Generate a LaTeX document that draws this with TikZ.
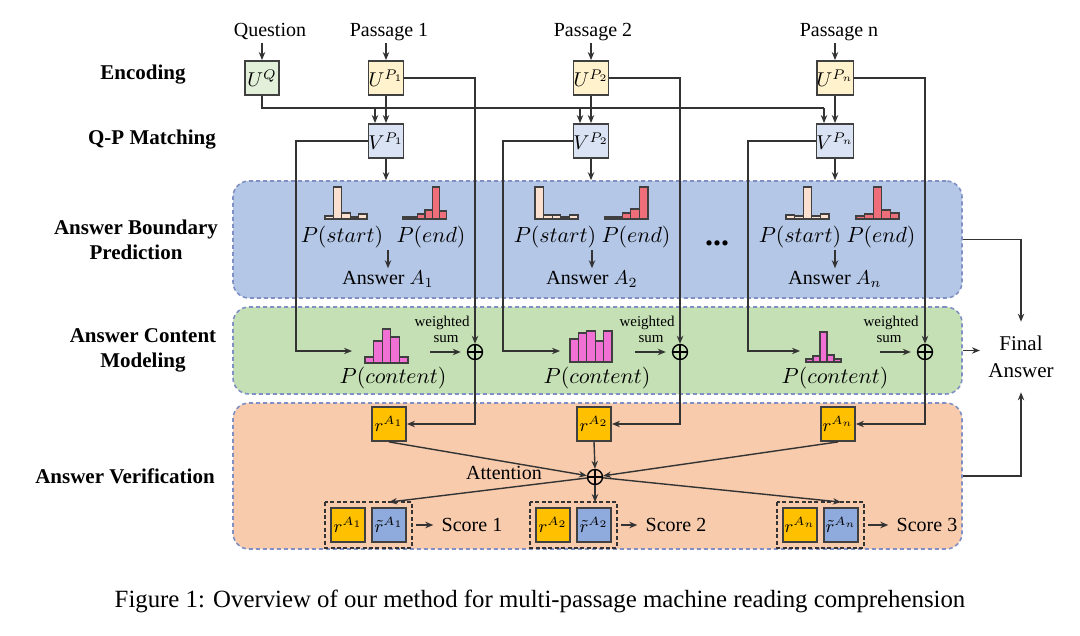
\documentclass[tikz,border=0pt]{standalone}
\usepackage{fontspec}
\setmainfont{Liberation Serif}
\usetikzlibrary{arrows.meta,calc}
\definecolor{lineC}{HTML}{333333}
\definecolor{boxC}{HTML}{404040}
\definecolor{panelC}{HTML}{8090C4}
\definecolor{blueP}{HTML}{B4C7E7}
\definecolor{greenP}{HTML}{C5E0B4}
\definecolor{orangeP}{HTML}{F8CBAD}
\definecolor{uC}{HTML}{FFF2CC}
\definecolor{qC}{HTML}{E2F0D9}
\definecolor{vC}{HTML}{DAE3F3}
\definecolor{rC}{HTML}{FFC000}
\definecolor{tC}{HTML}{8FAADC}
\definecolor{startC}{HTML}{FBE0D0}
\definecolor{endC}{HTML}{EE6E7A}
\definecolor{contC}{HTML}{F070D4}
\newcommand{\myhist}[5]{%
  \foreach \h [count=\i from 0] in {#5}{%
    \draw[draw=black!75, line width=0.6pt, fill=#4] ({#1+\i*#3},#2) rectangle ++(#3,-\h);
  }}
\begin{document}
\begin{tikzpicture}[x=0.5pt,y=-0.5pt,
  conn/.style={draw=lineC, line width=0.7pt},
  arr/.style={conn, -{Stealth[length=4pt,width=3.2pt]}},
  box/.style={draw=boxC, line width=0.9pt, minimum width=17pt, minimum height=17pt, inner sep=0pt, font=\fontsize{10}{12}\selectfont},
  ubox/.style={box, fill=uC},
  qbox/.style={box, fill=qC},
  vbox/.style={box, fill=vC},
  rbox/.style={box, fill=rC, font=\fontsize{9}{11}\selectfont},
  tbox/.style={box, fill=tC, font=\fontsize{9}{11}\selectfont},
  panel/.style={draw=panelC, dash pattern=on 2pt off 1.5pt, line width=0.8pt, rounded corners=8pt, minimum width=364.5pt, inner sep=0pt},
  rowlab/.style={font=\bfseries\fontsize{10.5}{12.5}\selectfont, align=center, inner sep=1pt},
  lab/.style={font=\fontsize{10}{12}\selectfont, inner sep=1pt},
  mathlab/.style={font=\fontsize{10.5}{12.5}\selectfont, inner sep=1pt},
  wlab/.style={font=\fontsize{7.5}{9}\selectfont, align=center, inner sep=0pt},
  oplus/.style={circle, draw=black, line width=0.7pt, minimum size=7.5pt, inner sep=0pt,
    path picture={\draw[line width=0.6pt] (path picture bounding box.north) -- (path picture bounding box.south) (path picture bounding box.west) -- (path picture bounding box.east);}},
  grp/.style={draw=black!80, line width=0.9pt, dash pattern=on 2pt off 1.2pt}
]
\useasboundingbox (0,0) rectangle (1080,636);
\fill[white] (0,0) rectangle (1080,636);

% row labels
\node[rowlab] (lenc) at (143,75) {Encoding};
\node[rowlab] (lqp) at (152,140) {Q-P Matching};
\node[rowlab] (labp) at (136,240) {Answer Boundary\\Prediction};
\node[rowlab] (lacm) at (143,350) {Answer Content\\Modeling};
\node[rowlab] (lav) at (125,476) {Answer Verification};

% panels
\node[panel, fill=blueP, minimum height=58.5pt] (pb) at (597.5,239.5) {};
\node[panel, fill=greenP, minimum height=43.5pt] (pg) at (597.5,350.5) {};
\node[panel, fill=orangeP, minimum height=73pt] (po) at (597.5,476) {};

% top labels and boxes
\node[lab] (tq) at (270,32) {Question};
\node[lab] (tp1) at (389,32) {Passage 1};
\node[lab] (tp2) at (593,32) {Passage 2};
\node[lab] (tpn) at (839,32) {Passage n};
\node[qbox] (uq) at (262,78) {$U^{Q}$};
\node[ubox] (u1) at (386,78) {$U^{P_1}$};
\node[ubox] (u2) at (591,78) {$U^{P_2}$};
\node[ubox] (un) at (835,78) {$U^{P_n}$};
\node[vbox] (v1) at (386,141) {$V^{P_1}$};
\node[vbox] (v2) at (591,141) {$V^{P_2}$};
\node[vbox] (vn) at (835,141) {$V^{P_n}$};

\draw[arr] (tq.south -| uq.north) -- (uq.north);
\draw[arr] (tp1.south -| u1.north) -- (u1.north);
\draw[arr] (tp2.south -| u2.north) -- (u2.north);
\draw[arr] (tpn.south -| un.north) -- (un.north);
\draw[arr] (u1.south) -- (v1.north);
\draw[arr] (u2.south) -- (v2.north);
\draw[arr] (un.south) -- (vn.north);

% question bus
\coordinate (v1q) at ($(v1.north)+(-11,0)$);
\coordinate (v2q) at ($(v2.north)+(-11,0)$);
\coordinate (vnq) at ($(vn.north)+(-11,0)$);
\coordinate (qb) at (262,108);
\draw[conn] (uq.south) -- (qb) -- (qb -| vnq);
\draw[arr] (qb -| v1q) -- (v1q);
\draw[arr] (qb -| v2q) -- (v2q);
\draw[arr] (qb -| vnq) -- (vnq);

% V to boundary panel
\draw[arr] (v1.south) -- (v1.south |- pb.north);
\draw[arr] (v2.south) -- (v2.south |- pb.north);
\draw[arr] (vn.south) -- (vn.south |- pb.north);

% boundary prediction contents
\myhist{325}{219}{8.4}{startC}{3,32,6,2,5}
\myhist{403}{219}{7.3}{endC}{2,2,5,9,32,8}
\myhist{535}{219}{8.6}{startC}{32,4,4,2,4}
\myhist{605}{219}{8.6}{endC}{2,2,6,10,32}
\myhist{786}{219}{8.6}{startC}{4,3,32,3,5}
\myhist{856}{219}{8.6}{endC}{3,5,32,9,6}
\node[mathlab] (ps1) at (342,237) {$P(start)$};
\node[mathlab] (pe1) at (431,237) {$P(end)$};
\node[mathlab] (ps2) at (555,237) {$P(start)$};
\node[mathlab] (pe2) at (636,237) {$P(end)$};
\node[mathlab] (psn) at (800,237) {$P(start)$};
\node[mathlab] (pen) at (881,237) {$P(end)$};
\node[lab] (a1) at (388,279) {Answer $A_1$};
\node[lab] (a2) at (592,279) {Answer $A_2$};
\node[lab] (an) at (835,279) {Answer $A_n$};
\draw[arr] (a1.north |- ps1.south) -- (a1.north);
\draw[arr] (a2.north |- ps2.south) -- (a2.north);
\draw[arr] (an.north |- psn.south) -- (an.north);
\node[font=\bfseries\fontsize{16}{16}\selectfont, inner sep=0pt] (dots) at (717,243) {...};

% content modeling
\myhist{365}{363}{8.6}{contC}{6,22,34,26,6}
\myhist{570}{362}{8.4}{contC}{23,29,31,21,31}
\myhist{806}{362}{7}{contC}{3,6,30,7,3}
\node[mathlab] (pc1) at (393,378) {$P(content)$};
\node[mathlab] (pc2) at (597,378) {$P(content)$};
\node[mathlab] (pcn) at (835,378) {$P(content)$};
\node[oplus] (o1) at (475,352) {};
\node[oplus] (o2) at (680,352) {};
\node[oplus] (on) at (925,352) {};
\node[wlab] (ws1) at (442,329) {weighted\\[-1pt]\hspace*{4pt}sum};
\node[wlab] (ws2) at (647,329) {weighted\\[-1pt]\hspace*{4pt}sum};
\node[wlab] (wsn) at (891,329) {weighted\\[-1pt]\hspace*{-2pt}sum};
\coordinate (w1) at (430,352);
\coordinate (w2) at (635,352);
\coordinate (wn) at (880,352);
\draw[arr, shorten >=3pt] (w1) -- (o1.west);
\draw[arr, shorten >=3pt] (w2) -- (o2.west);
\draw[arr, shorten >=3pt] (wn) -- (on.west);

% U to oplus
\draw[arr] (u1.east) -| (o1.north);
\draw[arr] (u2.east) -| (o2.north);
\draw[arr] (un.east) -| (on.north);

% V to content histogram
\coordinate (l1) at (296,351); \coordinate (h1) at (352,351);
\coordinate (l2) at (503,351); \coordinate (h2) at (560,351);
\coordinate (ln) at (748,351); \coordinate (hn) at (800,351);
\draw[arr] (v1.west) -| (l1) -- (h1);
\draw[arr] (v2.west) -| (l2) -- (h2);
\draw[arr] (vn.west) -| (ln) -- (hn);

% verification
\node[rbox] (r1) at (389,424) {$r^{A_1}$};
\node[rbox] (r2) at (594,424) {$r^{A_2}$};
\node[rbox] (rn) at (838,424) {$r^{A_n}$};
\draw[arr] (o1.south) |- (r1.east);
\draw[arr] (o2.south) |- (r2.east);
\draw[arr] (on.south) |- (rn.east);
\node[oplus] (att) at (595,477) {};
\node[lab] (attl) at (504,473) {Attention};
\draw[arr] (r1.south) -- (att);
\draw[arr] (r2.south) -- (att.north);
\draw[arr] (rn.south) -- (att);

\node[rbox] (ra1) at (348,525) {$r^{A_1}$};
\node[tbox] (rt1) at (389,525) {$\tilde{r}^{A_1}$};
\node[rbox] (ra2) at (553,525) {$r^{A_2}$};
\node[tbox] (rt2) at (594,525) {$\tilde{r}^{A_2}$};
\node[rbox] (ran) at (800,525) {$r^{A_n}$};
\node[tbox] (rtn) at (841,525) {$\tilde{r}^{A_n}$};
\coordinate (g1nw) at ($(ra1.north west)+(-5,-5)$);
\coordinate (g1se) at ($(rt1.south east)+(5,5)$);
\coordinate (g2nw) at ($(ra2.north west)+(-5,-5)$);
\coordinate (g2se) at ($(rt2.south east)+(5,5)$);
\coordinate (g3nw) at ($(ran.north west)+(-5,-5)$);
\coordinate (g3se) at ($(rtn.south east)+(5,5)$);
\draw[grp] (g1nw) rectangle (g1se);
\draw[grp] (g2nw) rectangle (g2se);
\draw[grp] (g3nw) rectangle (g3se);
\draw[arr] (att) -- (g1nw -| rt1.north);
\draw[arr] (att.south) -- (att.south |- g2nw);
\draw[arr] (att) -- (g3nw -| rtn.north);

\node[lab] (s1) at (472,525) {Score 1};
\node[lab] (s2) at (676,525) {Score 2};
\node[lab] (s3) at (927,525) {Score 3};
\draw[arr, shorten <=2pt, shorten >=3pt] (g1se |- rt1.east) -- (s1.west);
\draw[arr, shorten <=2pt, shorten >=3pt] (g2se |- rt2.east) -- (s2.west);
\draw[arr, shorten <=2pt, shorten >=3pt] (g3se |- rtn.east) -- (s3.west);

% final answer
\node[font=\fontsize{10.5}{13.5}\selectfont, align=center, inner xsep=4pt, inner ysep=7pt] (fin) at (1021,357) {Final\\Answer};
\draw[arr] (pb.east) -| (fin.north);
\draw[arr] (pg.east) -- (pg.east -| fin.west);
\draw[arr] (po.east) -| (fin.south);

% caption
\node[font=\fontsize{12.4}{14}\selectfont, inner sep=0pt] (cap) at (540,601) {Figure 1: Overview of our method for multi-passage machine reading comprehension};
\end{tikzpicture}
\end{document}
